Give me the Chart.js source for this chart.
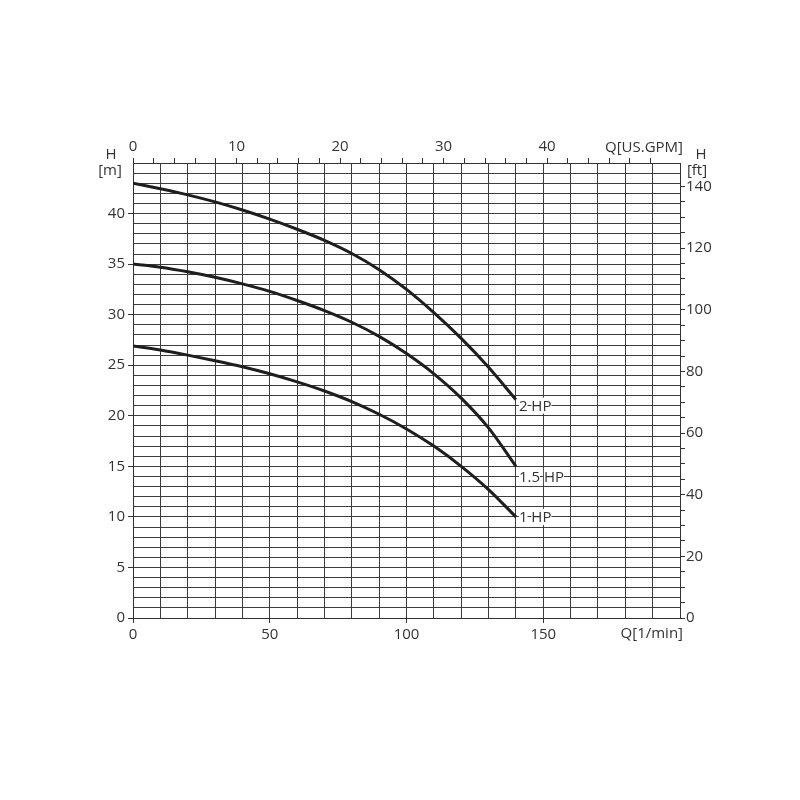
<!DOCTYPE html>
<html lang="en">
<head>
    <meta charset="UTF-8">
    <title>Pump curves</title>
    <script src="https://cdn.jsdelivr.net/npm/chart.js@4.4.1/dist/chart.umd.min.js"></script>
    <style>
        body {
            margin: 0;
            background-color: #ffffff;
        }
        #chart-box {
            width: 800px;
            height: 800px;
        }
    </style>
</head>
<body>
    <div id="chart-box">
        <canvas id="pump-chart" width="800" height="800"></canvas>
    </div>
    <script>
        // flow in l/min, head in m
        const flowLpm = [0, 10, 20, 30, 40, 50, 60, 70, 80, 90, 100, 110, 120, 130, 140];
        const head2hp = [43.0, 42.45, 41.85, 41.15, 40.35, 39.45, 38.45, 37.35, 36.05, 34.45, 32.5, 30.2, 27.65, 24.8, 21.6];
        const head15hp = [35.0, 34.7, 34.25, 33.7, 33.05, 32.3, 31.4, 30.4, 29.25, 27.85, 26.15, 24.15, 21.75, 18.8, 15.0];
        const head1hp = [26.9, 26.5, 26.0, 25.45, 24.85, 24.15, 23.35, 22.45, 21.4, 20.15, 18.7, 17.0, 15.0, 12.7, 10.0];
        const curveNames = ['2 HP', '1.5 HP', '1 HP'];
        const labelHeads = [21, 14, 10];

        const lpmTickLabels = [0, 50, 100, 150];
        const meterTickLabels = [0, 5, 10, 15, 20, 25, 30, 35, 40];
        const gpmTickLabels = [0, 10, 20, 30, 40];
        const feetTickLabels = [0, 20, 40, 60, 80, 100, 120, 140];

        const LPM_PER_GPM = 3.7854;
        const FT_PER_M = 3.2808;
        const Q_MAX = 200;
        const H_MAX = 45;

        const ink = '#333333';
        const gridInk = '#3d3d3d';
        const font = { family: "'Open Sans', sans-serif", size: 15 };
        const clear = 'rgba(0,0,0,0)';

        const hasValue = (list, v) => list.some(a => Math.abs(a - v) < 1e-6);
        const onStep = (v, step) => Math.abs(v / step - Math.round(v / step)) < 1e-6;

        function toPoints(heads) {
            return flowLpm.map((q, i) => ({ x: q, y: heads[i] }));
        }

        const curveLabels = {
            id: 'curveLabels',
            afterDatasetsDraw(chart) {
                const c = chart.ctx;
                const xs = chart.scales.x;
                const ys = chart.scales.y;
                c.save();
                c.font = "15px 'Open Sans', sans-serif";
                c.textBaseline = 'middle';
                c.textAlign = 'left';
                chart.data.datasets.forEach((ds, i) => {
                    const last = ds.data[ds.data.length - 1];
                    let x = xs.getPixelForValue(last.x) + 3;
                    const y = ys.getPixelForValue(labelHeads[i]);
                    const words = curveNames[i].split(' ');
                    words.forEach(w => {
                        const wWidth = c.measureText(w).width;
                        c.fillStyle = '#ffffff';
                        c.fillRect(x, y - 8, wWidth, 16);
                        c.fillStyle = ink;
                        c.fillText(w, x, y + 1);
                        x += wWidth + c.measureText(' ').width;
                    });
                });
                c.restore();
            }
        };

        const axisTitles = {
            id: 'axisTitles',
            afterDraw(chart) {
                const c = chart.ctx;
                const area = chart.chartArea;
                c.save();
                c.font = "15px 'Open Sans', sans-serif";
                c.fillStyle = ink;
                c.textBaseline = 'middle';
                c.textAlign = 'center';
                c.fillText('H', area.left - 22, area.top - 8);
                c.fillText('[m]', area.left - 23, area.top + 8);
                c.fillText('H', area.right + 21, area.top - 8);
                c.fillText('[ft]', area.right + 17, area.top + 8);
                c.textAlign = 'right';
                c.fillText('Q[US.GPM]', area.right + 3, area.top - 15);
                c.fillText('Q[1/min]', area.right + 3, area.bottom + 16);
                c.restore();
            }
        };

        const lineStyle = {
            borderColor: '#1e1e1e',
            borderWidth: 3,
            pointRadius: 0,
            fill: false,
            cubicInterpolationMode: 'monotone'
        };

        new Chart(document.getElementById('pump-chart'), {
            type: 'line',
            data: {
                datasets: [
                    Object.assign({ label: curveNames[0], data: toPoints(head2hp) }, lineStyle),
                    Object.assign({ label: curveNames[1], data: toPoints(head15hp) }, lineStyle),
                    Object.assign({ label: curveNames[2], data: toPoints(head1hp) }, lineStyle)
                ]
            },
            options: {
                responsive: false,
                animation: false,
                layout: { padding: 0 },
                plugins: {
                    legend: { display: false },
                    tooltip: { enabled: false }
                },
                scales: {
                    x: {
                        type: 'linear',
                        position: 'bottom',
                        min: 0,
                        max: Q_MAX,
                        ticks: {
                            stepSize: 10,
                            autoSkip: false,
                            maxRotation: 0,
                            padding: 3,
                            color: ink,
                            font: font,
                            callback: v => hasValue(lpmTickLabels, v) ? String(v) : ''
                        },
                        grid: {
                            color: gridInk,
                            lineWidth: 1,
                            tickLength: 5,
                            tickColor: ctx => hasValue(lpmTickLabels, ctx.tick.value) ? ink : clear
                        },
                        border: { color: ink, width: 1 },
                        afterFit: s => { s.height = 182; }
                    },
                    y: {
                        type: 'linear',
                        position: 'left',
                        min: 0,
                        max: H_MAX,
                        ticks: {
                            stepSize: 1,
                            autoSkip: false,
                            padding: 3,
                            color: ink,
                            font: font,
                            callback: v => hasValue(meterTickLabels, v) ? String(v) : ''
                        },
                        grid: {
                            color: gridInk,
                            lineWidth: 1,
                            tickLength: 5,
                            tickColor: ctx => hasValue(meterTickLabels, ctx.tick.value) ? ink : clear
                        },
                        border: { color: ink, width: 1 },
                        afterFit: s => { s.width = 133; }
                    },
                    gpm: {
                        type: 'linear',
                        position: 'top',
                        min: 0,
                        max: Q_MAX / LPM_PER_GPM,
                        ticks: {
                            stepSize: 2,
                            autoSkip: false,
                            maxRotation: 0,
                            padding: 2,
                            color: ink,
                            font: font,
                            callback: v => hasValue(gpmTickLabels, v) ? String(v) : ''
                        },
                        grid: {
                            drawOnChartArea: false,
                            tickLength: 5,
                            tickColor: ink
                        },
                        border: { color: ink, width: 1 },
                        afterBuildTicks: s => { s.ticks = s.ticks.filter(t => onStep(t.value, 2)); },
                        afterFit: s => { s.height = 163; }
                    },
                    ft: {
                        type: 'linear',
                        position: 'right',
                        min: 0,
                        max: H_MAX * FT_PER_M,
                        ticks: {
                            stepSize: 5,
                            autoSkip: false,
                            padding: 1,
                            color: ink,
                            font: font,
                            callback: v => hasValue(feetTickLabels, v) ? String(v) : ''
                        },
                        grid: {
                            drawOnChartArea: false,
                            tickLength: 5,
                            tickColor: ink
                        },
                        border: { color: ink, width: 1 },
                        afterBuildTicks: s => { s.ticks = s.ticks.filter(t => onStep(t.value, 5)); },
                        afterFit: s => { s.width = 120; }
                    }
                }
            },
            plugins: [curveLabels, axisTitles]
        });
    </script>
</body>
</html>
